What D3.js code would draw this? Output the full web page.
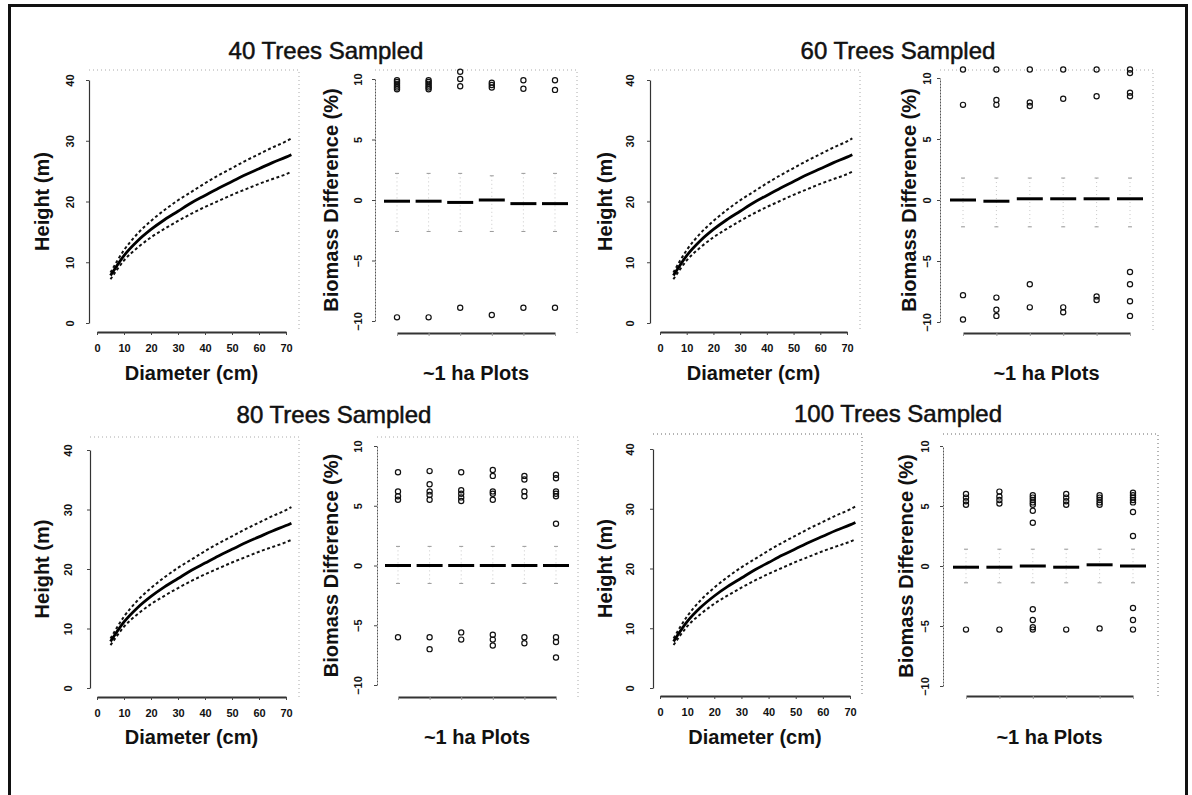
<!DOCTYPE html>
<html>
<head>
<meta charset="utf-8">
<script src="https://cdn.jsdelivr.net/npm/d3@7"></script>
<style>
  body { margin: 0; background: #fff; }
  text { font-family: "Liberation Sans", Arial, sans-serif; fill: #111; }
</style>
</head>
<body>
<div id="chart"></div>
<script>
var w = 1192;
var h = 795;

// fitted height-diameter curve and its band (same in all four panels)
var diam   = [5, 10, 15, 20, 25, 30, 35, 40, 45, 50, 55, 60, 65, 70, 72];
var hFit   = [7.8, 11.1, 13.5, 15.4, 17.0, 18.4, 19.8, 21.0, 22.2, 23.3, 24.4, 25.4, 26.4, 27.3, 27.7];
var hUpper = [8.3, 12.0, 14.7, 16.8, 18.6, 20.2, 21.6, 23.0, 24.3, 25.5, 26.7, 27.8, 28.9, 29.9, 30.4];
var hLower = [7.2, 10.3, 12.4, 14.1, 15.5, 16.8, 18.0, 19.1, 20.1, 21.1, 22.0, 22.9, 23.7, 24.5, 24.9];

var titles = ["40 Trees Sampled", "60 Trees Sampled", "80 Trees Sampled", "100 Trees Sampled"];
var plots = [1, 2, 3, 4, 5, 6];

var diamTicks = [0, 10, 20, 30, 40, 50, 60, 70];
var heightTicks = [0, 10, 20, 30, 40];
var bioTicks = [-10, -5, 0, 5, 10];

// biomass difference (%) per ~1 ha plot
var med40 = [-0.1, -0.1, -0.2, 0.0, -0.3, -0.3];
var hi40  = [2.2, 2.2, 2.2, 2.0, 2.2, 2.2];
var lo40  = [-2.6, -2.6, -2.6, -2.6, -2.6, -2.6];
var out40 = [[1, 9.9], [1, 9.75], [1, 9.6], [1, 9.45], [1, 9.3], [1, 9.15], [1, -9.7],
             [2, 9.9], [2, 9.75], [2, 9.6], [2, 9.45], [2, 9.3], [2, 9.15], [2, -9.7],
             [3, 10.6], [3, 10.0], [3, 9.4], [3, -8.9],
             [4, 9.7], [4, 9.5], [4, 9.3], [4, -9.5],
             [5, 9.9], [5, 9.2], [5, -8.9],
             [6, 9.9], [6, 9.1], [6, -8.9]];

var med60 = [0.0, -0.1, 0.1, 0.1, 0.1, 0.1];
var hi60  = [1.8, 1.8, 1.8, 1.8, 1.8, 1.8];
var lo60  = [-2.2, -2.2, -2.2, -2.2, -2.2, -2.2];
var out60 = [[1, 10.7], [1, 7.8], [1, -7.8], [1, -9.8],
             [2, 10.7], [2, 8.2], [2, 7.8], [2, -8.0], [2, -9.0], [2, -9.5],
             [3, 10.7], [3, 8.0], [3, 7.7], [3, -6.9], [3, -8.8],
             [4, 10.7], [4, 8.3], [4, -8.8], [4, -9.2],
             [5, 10.7], [5, 8.5], [5, -7.9], [5, -8.2],
             [6, 10.7], [6, 10.4], [6, 8.8], [6, 8.5], [6, -5.9], [6, -6.9], [6, -8.3], [6, -9.5]];

var med80 = [0.0, 0.0, 0.0, 0.0, 0.0, 0.0];
var hi80  = [1.6, 1.6, 1.6, 1.6, 1.6, 1.6];
var lo80  = [-1.5, -1.5, -1.5, -1.5, -1.5, -1.5];
var out80 = [[1, 7.8], [1, 6.2], [1, 5.8], [1, 5.5], [1, -6.0],
             [2, 7.9], [2, 6.8], [2, 6.2], [2, 5.9], [2, 5.5], [2, -6.0], [2, -7.0],
             [3, 7.8], [3, 6.3], [3, 6.0], [3, 5.7], [3, 5.4], [3, -5.6], [3, -6.2],
             [4, 8.0], [4, 7.5], [4, 6.2], [4, 6.0], [4, 5.5], [4, -5.8], [4, -6.2], [4, -6.7],
             [5, 7.5], [5, 7.2], [5, 6.2], [5, 5.8], [5, -6.0], [5, -6.5],
             [6, 7.6], [6, 7.3], [6, 6.2], [6, 6.0], [6, 5.8], [6, 3.5], [6, -6.0], [6, -6.4], [6, -7.7]];

var med100 = [-0.1, -0.1, 0.0, -0.1, 0.1, 0.0];
var hi100  = [1.4, 1.4, 1.4, 1.4, 1.4, 1.4];
var lo100  = [-1.4, -1.4, -1.4, -1.4, -1.4, -1.4];
var out100 = [[1, 6.0], [1, 5.7], [1, 5.4], [1, 5.1], [1, -5.3],
              [2, 6.2], [2, 5.8], [2, 5.5], [2, 5.2], [2, -5.3],
              [3, 5.9], [3, 5.7], [3, 5.5], [3, 5.3], [3, 5.1], [3, 4.6], [3, 3.6], [3, -3.6], [3, -4.5], [3, -5.1], [3, -5.3],
              [4, 6.0], [4, 5.7], [4, 5.4], [4, 5.1], [4, -5.3],
              [5, 5.9], [5, 5.7], [5, 5.5], [5, 5.3], [5, 5.1], [5, -5.2],
              [6, 6.1], [6, 5.9], [6, 5.7], [6, 5.5], [6, 5.3], [6, 4.5], [6, 2.5], [6, -3.5], [6, -4.5], [6, -5.3]];

// panel geometry (pixels)
var panels = [
  {title: titles[0], med: med40, hi: hi40, lo: lo40, out: out40,
   tx: 326, ty: 59, top: 70, xTickY: 355, xTitleY: 380, boxTone: "#aaa",
   hx0: 97, hx70: 286, hy0: 323, hy40: 80, hAxisY: 332, hAxisX: 89, hTickX: 70, hTitleX: 42, hRight: 299,
   bAxisX: 375, bx1: 397, bx6: 555, byLo: 321, byHi: 79, bAxisY: 333, bTickX: 358, bTitleX: 331, bRight: 577},
  {title: titles[1], med: med60, hi: hi60, lo: lo60, out: out60,
   tx: 898, ty: 59, top: 70, xTickY: 355, xTitleY: 380, boxTone: "#aaa",
   hx0: 660, hx70: 847, hy0: 323, hy40: 80, hAxisY: 332, hAxisX: 650, hTickX: 630, hTitleX: 605, hRight: 860,
   bAxisX: 940, bx1: 963, bx6: 1130, byLo: 322, byHi: 78, bAxisY: 333, bTickX: 927, bTitleX: 909, bRight: 1153},
  {title: titles[2], med: med80, hi: hi80, lo: lo80, out: out80,
   tx: 334, ty: 423, top: 437, xTickY: 720, xTitleY: 744, boxTone: "#aaa",
   hx0: 97, hx70: 286, hy0: 688, hy40: 450, hAxisY: 697, hAxisX: 90, hTickX: 68, hTitleX: 42, hRight: 299,
   bAxisX: 377, bx1: 398, bx6: 556, byLo: 685, byHi: 446, bAxisY: 697, bTickX: 358, bTitleX: 331, bRight: 578},
  {title: titles[3], med: med100, hi: hi100, lo: lo100, out: out100,
   tx: 898, ty: 422, top: 434, xTickY: 720, xTitleY: 744, boxTone: "#666",
   hx0: 660, hx70: 850, hy0: 688, hy40: 449, hAxisY: 696, hAxisX: 653, hTickX: 630, hTitleX: 605, hRight: 862,
   bAxisX: 943, bx1: 966, bx6: 1133, byLo: 686, byHi: 446, bAxisY: 696, bTickX: 925, bTitleX: 906, bRight: 1158}
];

var svg = d3.select("#chart")
  .append("svg")
  .attr("width", w)
  .attr("height", h);

// scanned page frame
svg.append("path")
  .attr("d", "M9.5,795 V5.5 H1186.5 V795")
  .attr("fill", "none")
  .attr("stroke", "#111")
  .attr("stroke-width", 3);

function rotateYLabels(g, off) {
  g.selectAll(".tick text")
    .attr("x", null)
    .attr("dy", "0.35em")
    .attr("text-anchor", "middle")
    .attr("transform", "translate(" + (-off) + ",0) rotate(-90)");
}

function styleAxis(g, width) {
  g.select(".domain").attr("stroke", "#333").attr("stroke-width", width);
  g.selectAll(".tick line").attr("stroke", "#444");
  g.selectAll(".tick text")
    .style("font-family", "'Liberation Sans', Arial, sans-serif")
    .style("font-size", "11px")
    .style("font-weight", "bold")
    .attr("fill", "#111");
}

function faintBox(x1, x2, yTop, yBottom, tone) {
  svg.append("path")
    .attr("d", "M" + x1 + "," + yTop + " H" + x2 + " V" + yBottom)
    .attr("fill", "none")
    .attr("stroke", tone)
    .attr("stroke-width", 1)
    .attr("stroke-dasharray", "1,3");
}

panels.forEach(function(p) {

  // overall title
  svg.append("text")
    .attr("x", p.tx)
    .attr("y", p.ty)
    .attr("text-anchor", "middle")
    .style("font-size", "24px")
    .style("stroke", "#111")
    .style("stroke-width", 0.5)
    .text(p.title);

  // ---- height vs diameter ----
  var x = d3.scaleLinear().domain([0, 70]).range([p.hx0, p.hx70]);
  var y = d3.scaleLinear().domain([0, 40]).range([p.hy0, p.hy40]);

  faintBox(p.hAxisX, p.hRight, p.top, p.hAxisY, p.boxTone);

  var gx = svg.append("g")
    .attr("transform", "translate(0," + p.hAxisY + ")")
    .call(d3.axisBottom(x).tickValues(diamTicks).tickSize(3).tickSizeOuter(0).tickPadding(9));
  styleAxis(gx, 1.8);

  var gy = svg.append("g")
    .attr("transform", "translate(" + p.hAxisX + ",0)")
    .call(d3.axisLeft(y).tickValues(heightTicks).tickSize(3).tickSizeOuter(0));
  styleAxis(gy, 1.2);
  rotateYLabels(gy, p.hAxisX - p.hTickX);

  var line = d3.line()
    .x(function(d, i) { return x(diam[i]); })
    .y(function(d) { return y(d); })
    .curve(d3.curveMonotoneX);

  svg.append("path").datum(hUpper)
    .attr("d", line).attr("fill", "none")
    .attr("stroke", "#111").attr("stroke-width", 2).attr("stroke-dasharray", "3,2.5");
  svg.append("path").datum(hLower)
    .attr("d", line).attr("fill", "none")
    .attr("stroke", "#111").attr("stroke-width", 2).attr("stroke-dasharray", "3,2.5");
  svg.append("path").datum(hFit)
    .attr("d", line).attr("fill", "none")
    .attr("stroke", "#000").attr("stroke-width", 2.8);

  svg.append("text")
    .attr("x", (p.hx0 + p.hx70) / 2)
    .attr("y", p.xTitleY)
    .attr("text-anchor", "middle")
    .style("font-size", "20px").style("font-weight", "bold")
    .text("Diameter (cm)");

  svg.append("text")
    .attr("transform", "translate(" + p.hTitleX + "," + ((p.hy0 + p.hy40) / 2) + ") rotate(-90)")
    .attr("dy", "0.35em")
    .attr("text-anchor", "middle")
    .style("font-size", "20px").style("font-weight", "bold")
    .text("Height (m)");

  // ---- biomass difference boxplots ----
  var bx = d3.scalePoint().domain(plots).range([p.bx1, p.bx6]);
  var by = d3.scaleLinear().domain([-10, 10]).range([p.byLo, p.byHi]);
  var half = 13;

  faintBox(p.bAxisX, p.bRight, p.top, p.bAxisY, p.boxTone);

  var gbx = svg.append("g")
    .attr("transform", "translate(0," + p.bAxisY + ")")
    .call(d3.axisBottom(bx).tickFormat("").tickSize(3).tickSizeOuter(0));
  styleAxis(gbx, 1.8);
  gbx.selectAll(".tick line").attr("stroke", "#999");

  var gby = svg.append("g")
    .attr("transform", "translate(" + p.bAxisX + ",0)")
    .call(d3.axisLeft(by).tickValues(bioTicks).tickSize(3).tickSizeOuter(0));
  styleAxis(gby, 1);
  gby.select(".domain").attr("stroke", "#555").attr("stroke-dasharray", "2,1");
  rotateYLabels(gby, p.bAxisX - p.bTickX);

  // whiskers
  svg.append("g").selectAll("line")
    .data(plots)
    .enter()
    .append("line")
    .attr("x1", function(d) { return bx(d); })
    .attr("x2", function(d) { return bx(d); })
    .attr("y1", function(d, i) { return by(p.hi[i]); })
    .attr("y2", function(d, i) { return by(p.lo[i]); })
    .attr("stroke", "#bbb")
    .attr("stroke-width", 0.8)
    .attr("stroke-dasharray", "1,3");

  // whisker staples
  var staples = [];
  plots.forEach(function(d, i) { staples.push([d, p.hi[i]]); staples.push([d, p.lo[i]]); });
  svg.append("g").selectAll("line")
    .data(staples)
    .enter()
    .append("line")
    .attr("x1", function(d) { return bx(d[0]) - 2; })
    .attr("x2", function(d) { return bx(d[0]) + 2; })
    .attr("y1", function(d) { return by(d[1]); })
    .attr("y2", function(d) { return by(d[1]); })
    .attr("stroke", "#999")
    .attr("stroke-width", 1);

  // medians
  svg.append("g").selectAll("line")
    .data(plots)
    .enter()
    .append("line")
    .attr("x1", function(d) { return bx(d) - half; })
    .attr("x2", function(d) { return bx(d) + half; })
    .attr("y1", function(d, i) { return by(p.med[i]); })
    .attr("y2", function(d, i) { return by(p.med[i]); })
    .attr("stroke", "#000")
    .attr("stroke-width", 3);

  // outliers
  svg.append("g").selectAll("circle")
    .data(p.out)
    .enter()
    .append("circle")
    .attr("cx", function(d) { return bx(d[0]); })
    .attr("cy", function(d) { return by(d[1]); })
    .attr("r", 2.6)
    .attr("fill", "none")
    .attr("stroke", "#111")
    .attr("stroke-width", 1.2);

  svg.append("text")
    .attr("x", (p.bx1 + p.bx6) / 2)
    .attr("y", p.xTitleY)
    .attr("text-anchor", "middle")
    .style("font-size", "20px").style("font-weight", "bold")
    .text("~1 ha Plots");

  svg.append("text")
    .attr("transform", "translate(" + p.bTitleX + "," + ((p.byLo + p.byHi) / 2) + ") rotate(-90)")
    .attr("dy", "0.35em")
    .attr("text-anchor", "middle")
    .style("font-size", "20px").style("font-weight", "bold")
    .text("Biomass Difference (%)");
});
</script>
</body>
</html>
